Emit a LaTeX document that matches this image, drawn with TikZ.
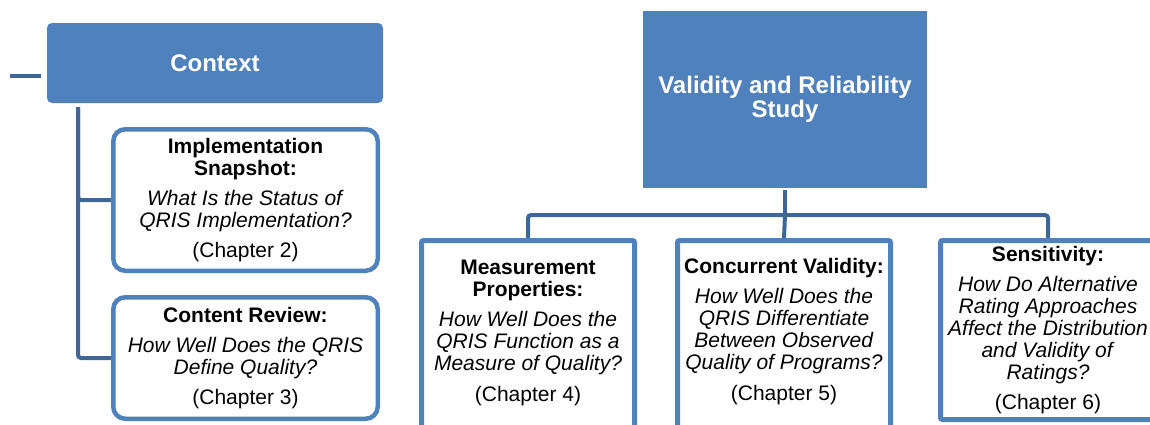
\documentclass[tikz,border=0pt]{standalone}
\usepackage{fontspec}
\setmainfont{Liberation Sans}
\usetikzlibrary{backgrounds}
\definecolor{qblue}{HTML}{4F81BD}
\definecolor{qdark}{HTML}{3E6798}
\tikzset{
	headbox/.style={fill=qblue, text=white, font=\bfseries\fontsize{24}{24}\selectfont, align=center, inner sep=0pt},
	sidebox/.style={draw=qblue, line width=4.5pt, rounded corners=12pt, fill=white, align=center, inner sep=0pt, minimum width=264.5pt, font=\fontsize{21}{22}\selectfont},
	studybox/.style={draw=qblue, line width=5pt, rounded corners=2pt, fill=white, align=center, inner sep=0pt, minimum width=213pt, font=\fontsize{21}{22}\selectfont},
	studytext/.style={align=center, inner sep=0pt, font=\fontsize{21}{22}\selectfont},
	link/.style={draw=qdark, line width=4pt, rounded corners=3pt}
}
\begin{document}
\begin{tikzpicture}[x=1pt,y=-1pt]
	\useasboundingbox (0,0) rectangle (1150,424);
	\node[headbox, rounded corners=5pt, minimum width=336pt, minimum height=80pt] (context) at (215,63) {Context};
	\node[headbox, minimum width=284pt, minimum height=177pt] (study) at (785,99.5) {Validity and Reliability\\Study};
	
	\node[sidebox, minimum height=141.5pt] (snapshot) at (245.5,200) {\textbf{Implementation}\\\textbf{Snapshot:}\\[8pt]\textit{What Is the Status of}\\\textit{QRIS Implementation?}\\[8pt](Chapter 2)};
	\node[sidebox, minimum height=121.5pt] (review) at (245.5,358) {\textbf{Content Review:}\\[8pt]\textit{How Well Does the QRIS}\\\textit{Define Quality?}\\[8pt](Chapter 3)};
	
	\node[studybox, minimum height=200pt] (measure) at (528,340.5) {};
	\node[studytext] (measure-text) at (528,333) {\textbf{Measurement}\\\textbf{Properties:}\\[8pt]\textit{How Well Does the}\\\textit{QRIS Function as a}\\\textit{Measure of Quality?}\\[9pt](Chapter 4)};
	\node[studybox, minimum height=200pt] (concurrent) at (784,340.5) {};
	\node[studytext] (concurrent-text) at (784,332) {\textbf{Concurrent Validity:}\\[8pt]\textit{How Well Does the}\\\textit{QRIS Differentiate}\\\textit{Between Observed}\\\textit{Quality of Programs?}\\[9pt](Chapter 5)};
	\node[studybox, minimum width=215pt, minimum height=179pt] (sensitivity) at (1048,330) {\textbf{Sensitivity:}\\[8pt]\textit{How Do Alternative}\\\textit{Rating Approaches}\\\textit{Affect the Distribution}\\\textit{and Validity of}\\\textit{Ratings?}\\[8pt](Chapter 6)};
	
	\coordinate (stubA) at (10,76);
	\coordinate (stubB) at (41,76);
	\coordinate (trunk) at (78,107);
	\coordinate (fork) at (785,215);
	\begin{scope}[on background layer]
		\draw[link] (stubA) -- (stubB);
		\draw[link] (trunk) |- (snapshot.west);
		\draw[link] (trunk) |- (review.west);
		\draw[link] ([yshift=-2pt]study.south) -- (fork);
		\draw[link] (fork) -| (measure.north);
		\draw[link] (fork) -- (concurrent.north);
		\draw[link] (fork) -| (sensitivity.north);
	\end{scope}
\end{tikzpicture}
\end{document}
